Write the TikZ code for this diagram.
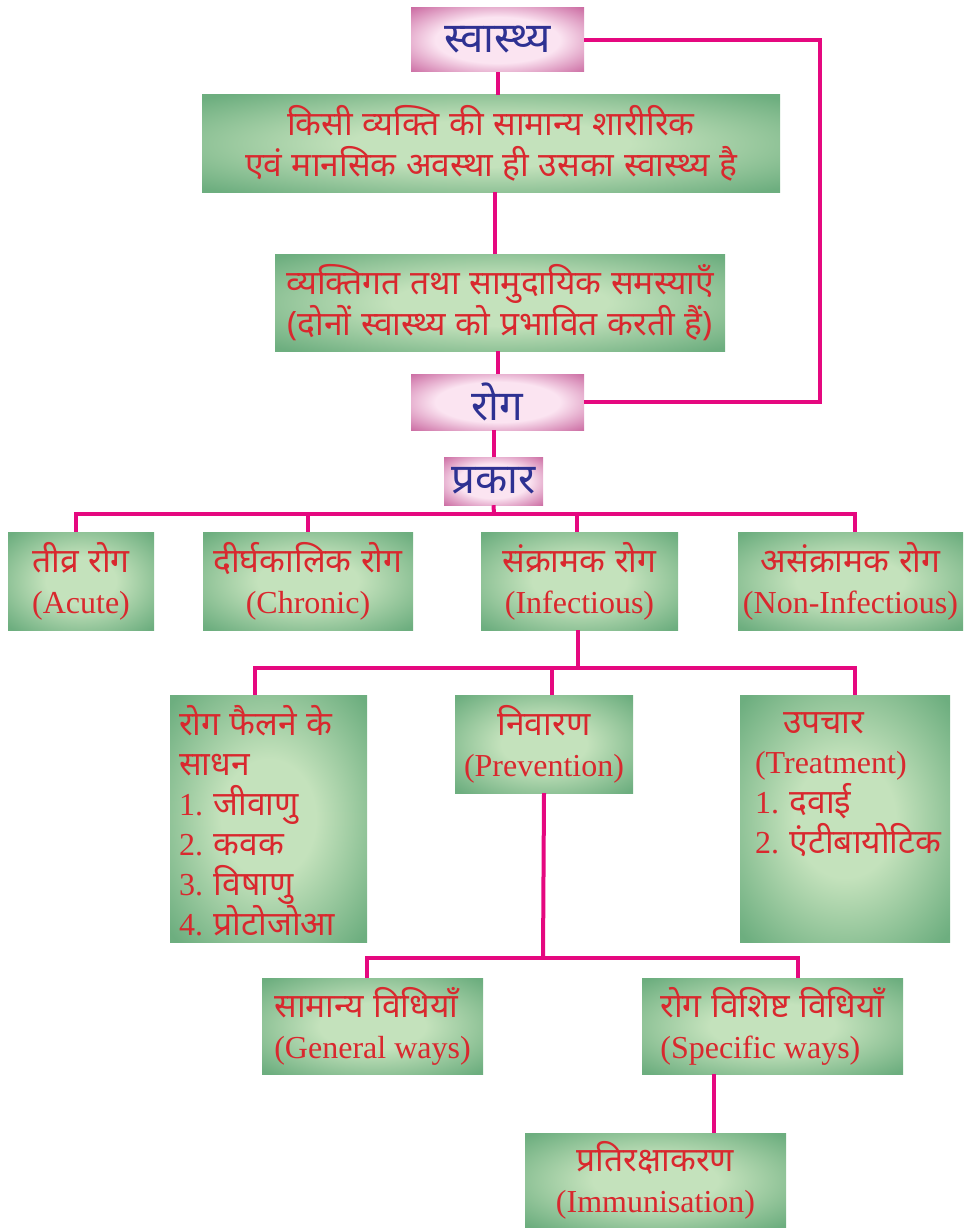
\documentclass[tikz,border=0pt]{standalone}
\usepackage{fontspec}
\setmainfont{Liberation Serif}
\newfontfamily\dev[Script=Devanagari,Scale=1.05,WordSpace=1.1]{Noto Sans}
\usetikzlibrary{calc}

\definecolor{lnk}{HTML}{E5087F}
\definecolor{redtxt}{HTML}{D9282E}
\definecolor{bluetxt}{HTML}{2E3192}
\definecolor{gin}{HTML}{C4E2BC}
\definecolor{gout}{HTML}{6DAE7F}
\definecolor{pin}{HTML}{FBE4F1}
\definecolor{pout}{HTML}{C55C98}

\pgfdeclareradialshading{greenglow}{\pgfpoint{0bp}{0bp}}{color(0bp)=(gin); color(12bp)=(gin); color(34bp)=(gout); color(50bp)=(gout)}
\pgfdeclareradialshading{pinkglow}{\pgfpoint{0bp}{0bp}}{color(0bp)=(pin); color(18bp)=(pin); color(38bp)=(pout); color(50bp)=(pout)}

\newcommand{\dv}[1]{{\dev #1}}

\tikzset{
  link/.style={draw=lnk, line width=4pt},
  gbox/.style={shade, shading=greenglow, inner sep=0pt, text=redtxt, align=center, font=\fontsize{32}{41}\selectfont},
  pbox/.style={shade, shading=pinkglow, inner sep=0pt, text=bluetxt, font=\fontsize{40}{40}\selectfont\bfseries},
  txt/.style={inner sep=0pt, text=redtxt, align=left, font=\fontsize{32}{40}\selectfont}
}

\begin{document}
\begin{tikzpicture}[x=1pt,y=-1pt]
\useasboundingbox (0,0) rectangle (967,1228);

\node(health) at (497.5,40) [pbox, minimum width=173, minimum height=64] {\dv{स्वास्थ्य}};
\node(def) at (491,143.5) [gbox, minimum width=578, minimum height=97] {\dv{किसी व्यक्ति की सामान्य शारीरिक}\\\dv{एवं मानसिक अवस्था ही उसका स्वास्थ्य है}};
\node(prob) at (500,302.5) [gbox, minimum width=450, minimum height=97] {\dv{व्यक्तिगत तथा सामुदायिक समस्याएँ}\\\dv{(दोनों स्वास्थ्य को प्रभावित करती हैं)}};
\node(rog) at (497.5,402) [pbox, minimum width=173, minimum height=56] {\dv{रोग}};
\node(kind) at (493.5,481) [pbox, minimum width=99, minimum height=48] {\dv{प्रकार}};

\node(acute) at (81,581) [gbox, minimum width=146, minimum height=98] {\dv{तीव्र रोग}\\(Acute)};
\node(chronic) at (308,581) [gbox, minimum width=210, minimum height=98] {\dv{दीर्घकालिक रोग}\\(Chronic)};
\node(inf) at (579.5,581) [gbox, minimum width=197, minimum height=98] {\dv{संक्रामक रोग}\\(Infectious)};
\node(noninf) at (850.5,581) [gbox, minimum width=225, minimum height=98] {\dv{असंक्रामक रोग}\\(Non-Infectious)};

\node(spread) at (268.5,818.5) [gbox, minimum width=197, minimum height=247] {};
\node(spreadtxt) at ([shift={(9,10)}]spread.north west) [txt, anchor=north west] {\dv{रोग फैलने के}\\\dv{साधन}\\1. \dv{जीवाणु}\\2. \dv{कवक}\\3. \dv{विषाणु}\\4. \dv{प्रोटोजोआ}};
\node(prev) at (544,744) [gbox, minimum width=178, minimum height=98] {\dv{निवारण}\\(Prevention)};
\node(treat) at (845,818.5) [gbox, minimum width=210, minimum height=247] {};
\node(treattxt) at ([shift={(15,18)}]treat.north west) [txt, anchor=north west] {\hspace*{28pt}\dv{उपचार}\\(Treatment)\\1. \dv{दवाई}\\2. \dv{एंटीबायोटिक}};

\node(gen) at (372.5,1026) [gbox, align=left, minimum width=221, minimum height=96] {\dv{सामान्य विधियाँ}\\(General ways)};
\node(spec) at (772.5,1026) [gbox, align=left, minimum width=261, minimum height=96] {\dv{रोग विशिष्ट विधियाँ}\\(Specific ways)};
\node(imm) at (655.5,1180.5) [gbox, minimum width=261, minimum height=95] {\dv{प्रतिरक्षाकरण}\\(Immunisation)};

\coordinate(k) at (494,514);
\coordinate(m) at (578,668);
\coordinate(n) at (543,958);

\draw[link] (health.east) -- ++(236,0) |- (rog.east);
\draw[link] (health.south) -- (health.south |- def.north);
\draw[link] ([xshift=4]def.south) -- ([xshift=4]def.south |- prob.north);
\draw[link] (rog.north |- prob.south) -- (rog.north);
\draw[link] (kind.north |- rog.south) -- (kind.north);
\draw[link] (kind.south) -- (k);
\draw[link] ([xshift=-5]acute.north) |- (k) -| ([xshift=4]noninf.north);
\draw[link] (chronic.north) -- (chronic.north |- k);
\draw[link] ([xshift=-3]inf.north) -- ([xshift=-3]inf.north |- k);

\draw[link] (m |- inf.south) -- (m);
\draw[link] ([xshift=-14]spread.north) |- (m) -| ([xshift=10]treat.north);
\draw[link] ([xshift=8]prev.north) -- ([xshift=8]prev.north |- m);

\draw[link] (prev.south) -- (n);
\draw[link] ([xshift=-6]gen.north) |- (n) -| ([xshift=25]spec.north);
\draw[link] ([xshift=-59]spec.south) -- ([xshift=-59]spec.south |- imm.north);

\end{tikzpicture}
\end{document}
